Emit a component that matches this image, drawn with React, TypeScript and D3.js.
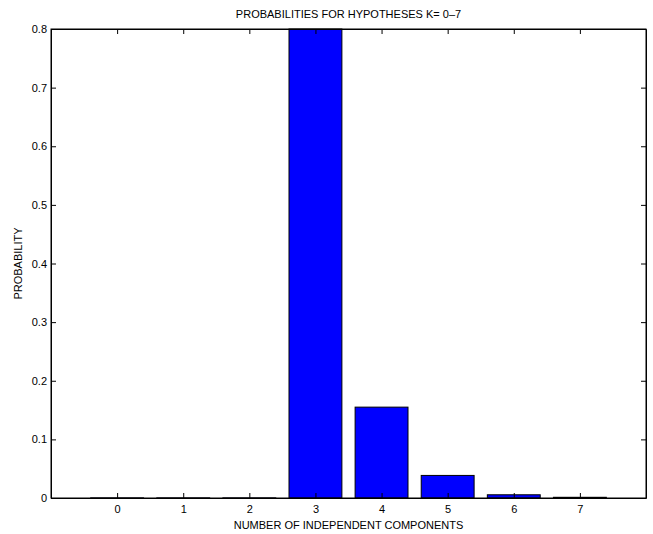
import * as d3 from "d3";
import { useEffect, useRef } from "react";

// hypotheses K = 0..7 and their probabilities
const categories = [0, 1, 2, 3, 4, 5, 6, 7];
const probabilities = [0.0002, 0.0002, 0.0002, 0.8, 0.155, 0.0385, 0.0055, 0.0012];
const yTicks = [0, 0.1, 0.2, 0.3, 0.4, 0.5, 0.6, 0.7, 0.8];

const App = () => {
  const svgRef = useRef<SVGSVGElement>(null);
  const width = 653;
  const height = 534;
  const margin = { top: 29, right: 7, bottom: 36, left: 51 };

  useEffect(() => {
    const svg = d3.select(svgRef.current);
    svg.selectAll("*").remove();
    const font = "Liberation Sans, Arial, sans-serif";

    const x = d3.scaleLinear().domain([-1, 8]).range([margin.left, width - margin.right]);
    const y = d3.scaleLinear().domain([0, 0.8]).range([height - margin.bottom, margin.top]);
    const bw = x(0.8) - x(0);

    // bars
    svg.append("g")
      .selectAll("rect")
      .data(categories)
      .join("rect")
      .attr("x", (d) => x(d) - bw / 2)
      .attr("width", bw)
      .attr("y", (d, i) => y(probabilities[i]))
      .attr("height", (d, i) => y(0) - y(probabilities[i]))
      .attr("fill", "#0000ff")
      .attr("stroke", "#000")
      .attr("stroke-width", 1);

    // axes with inward ticks
    const bottom = d3.axisBottom(x).tickValues(categories).tickSizeInner(-5).tickSizeOuter(0).tickPadding(7).tickFormat(d3.format("d"));
    const top = d3.axisTop(x).tickValues(categories).tickSizeInner(-5).tickSizeOuter(0).tickFormat(() => "");
    const left = d3.axisLeft(y).tickValues(yTicks).tickSizeInner(-5).tickSizeOuter(0).tickPadding(4).tickFormat((d) => (d === 0 ? "0" : d3.format(".1f")(d as number)));
    const right = d3.axisRight(y).tickValues(yTicks).tickSizeInner(-5).tickSizeOuter(0).tickFormat(() => "");

    const gb = svg.append("g").attr("transform", `translate(0,${height - margin.bottom})`).call(bottom);
    svg.append("g").attr("transform", `translate(0,${margin.top})`).call(top);
    const gl = svg.append("g").attr("transform", `translate(${margin.left},0)`).call(left);
    svg.append("g").attr("transform", `translate(${width - margin.right},0)`).call(right);

    svg.selectAll(".domain").attr("stroke", "#000");
    svg.selectAll(".tick line").attr("stroke", "#000");
    [gb, gl].forEach((g) =>
      g.selectAll("text").attr("font-family", font).attr("font-size", 11).attr("fill", "#000")
    );

    // box
    svg.append("rect")
      .attr("x", margin.left)
      .attr("y", margin.top)
      .attr("width", width - margin.left - margin.right)
      .attr("height", height - margin.top - margin.bottom)
      .attr("fill", "none")
      .attr("stroke", "#000");

    const cx = (margin.left + width - margin.right) / 2;
    svg.append("text")
      .attr("x", cx).attr("y", 18)
      .attr("text-anchor", "middle")
      .attr("font-family", font).attr("font-size", 11)
      .text("PROBABILITIES FOR HYPOTHESES K= 0\u20137");

    svg.append("text")
      .attr("x", cx).attr("y", 529)
      .attr("text-anchor", "middle")
      .attr("font-family", font).attr("font-size", 11)
      .text("NUMBER OF INDEPENDENT COMPONENTS");

    const cy = (margin.top + height - margin.bottom) / 2;
    svg.append("text")
      .attr("transform", `translate(22,${cy}) rotate(-90)`)
      .attr("text-anchor", "middle")
      .attr("font-family", font).attr("font-size", 11)
      .text("PROBABILITY");
  }, []);

  return (
    <svg
      ref={svgRef}
      width={width}
      height={height}
      style={{ position: "absolute", left: 0, top: 0, background: "#fff" }}
    ></svg>
  );
};

export default App;
